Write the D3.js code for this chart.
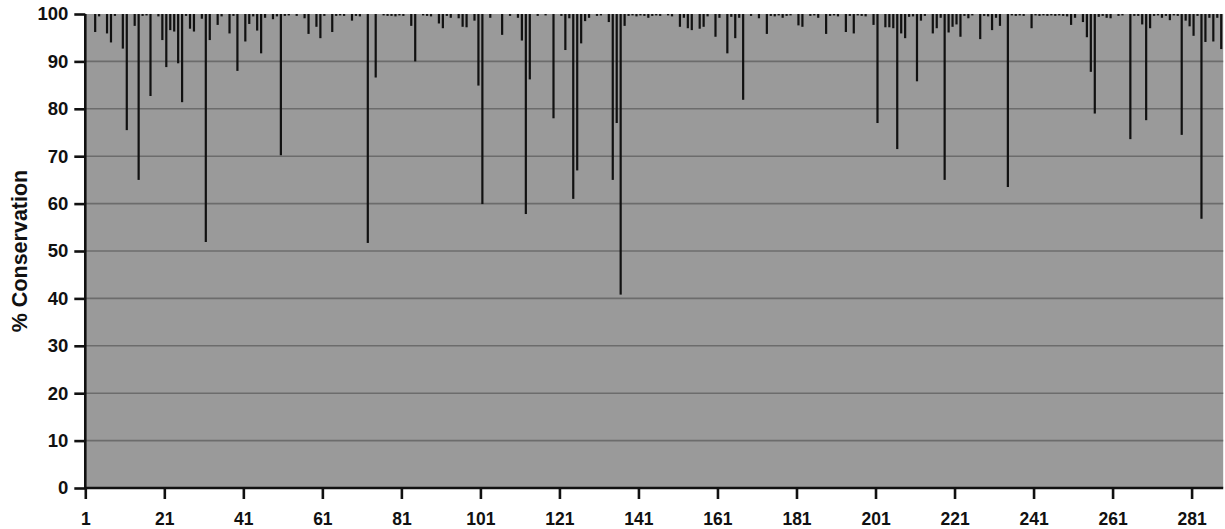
<!DOCTYPE html>
<style>
body { margin: 0; background: #fff; }
svg text { font-family: "Liberation Sans", Arial, sans-serif; font-weight: bold; fill: #111; }
</style>
<svg width="1225" height="529"></svg>
<script src="https://d3js.org/d3.v7.min.js"></script>
<script>

// % conservation per residue position, 1..288 (24 per row)
var conservation = [
  100, 100, 96.2, 99.5, 100, 95.9, 94.0, 99.6, 100, 92.7, 75.5, 100, 97.5, 65.0, 99.6, 99.7, 82.7, 100, 99.5, 94.5, 88.8, 96.6, 96.3, 89.6,
  81.4, 99.6, 96.9, 96.3, 100, 99.0, 51.9, 94.5, 100, 97.7, 99.5, 100, 95.9, 99.6, 88.0, 100, 94.2, 97.9, 99.5, 96.5, 91.7, 99.2, 100, 98.9,
  99.5, 70.2, 99.6, 99.7, 100, 99.6, 100, 99.1, 95.8, 100, 97.3, 94.9, 99.6, 100, 96.2, 99.6, 99.7, 99.6, 100, 98.6, 99.6, 99.5, 100, 51.7,
  100, 86.6, 100, 99.7, 99.6, 99.6, 99.5, 99.7, 99.6, 100, 97.5, 90.0, 100, 99.7, 99.6, 99.5, 100, 98.0, 97.0, 99.6, 99.2, 100, 99.1, 97.3,
  97.2, 100, 98.6, 84.9, 59.9, 100, 99.2, 100, 100, 95.6, 100, 99.6, 100, 99.2, 94.4, 57.8, 86.2, 100, 99.6, 100, 99.7, 100, 78.0, 100,
  99.6, 92.4, 99.1, 61.0, 67.0, 93.8, 98.5, 99.2, 100, 99.6, 99.7, 100, 98.3, 65.0, 77.0, 40.8, 97.5, 99.6, 99.7, 99.5, 99.7, 99.6, 99.2, 99.6,
  99.7, 99.6, 100, 99.7, 99.5, 100, 97.3, 99.2, 97.0, 96.6, 100, 96.9, 97.3, 99.5, 100, 95.2, 99.2, 100, 91.7, 99.4, 94.9, 99.2, 81.9, 100,
  99.6, 100, 99.1, 100, 95.8, 99.6, 99.5, 99.7, 99.2, 99.6, 99.7, 100, 97.6, 97.3, 100, 99.6, 99.7, 99.2, 100, 95.8, 99.6, 99.7, 99.5, 100,
  96.2, 99.6, 95.9, 99.7, 99.6, 99.5, 100, 97.7, 77.0, 100, 97.2, 97.2, 97.0, 71.5, 95.9, 94.9, 99.4, 99.5, 85.8, 98.6, 99.6, 100, 95.9, 97.0,
  99.2, 65.0, 96.1, 97.3, 97.8, 95.2, 99.6, 99.1, 99.7, 100, 94.7, 99.6, 99.5, 96.6, 99.2, 97.5, 100, 63.5, 99.7, 99.6, 99.7, 99.6, 100, 97.0,
  99.7, 99.6, 99.7, 99.6, 99.7, 99.6, 99.7, 99.6, 99.5, 97.7, 99.2, 100, 98.3, 95.1, 87.8, 79.0, 99.4, 99.6, 99.2, 99.1, 100, 99.6, 99.7, 100,
  73.6, 99.6, 99.6, 97.8, 77.6, 97.0, 99.6, 99.7, 99.2, 99.6, 98.7, 99.7, 99.6, 74.5, 98.6, 97.4, 95.4, 99.6, 56.8, 94.1, 99.2, 94.2, 99.2, 92.6
];

var xTicks = [1, 21, 41, 61, 81, 101, 121, 141, 161, 181, 201, 221, 241, 261, 281];
var yTicks = [0, 10, 20, 30, 40, 50, 60, 70, 80, 90, 100];

var svg = d3.select("svg");

var plotLeft = 85.3, plotRight = 1223.2, plotTop = 14, plotBottom = 488;

var x = d3.scaleLinear().domain([1, conservation.length + 1]).range([plotLeft, plotRight]);
var y = d3.scaleLinear().domain([0, 100]).range([plotBottom, plotTop]);

// plot background
svg.append("rect")
  .attr("x", plotLeft)
  .attr("y", plotTop)
  .attr("width", plotRight - plotLeft)
  .attr("height", plotBottom - plotTop)
  .attr("fill", "#9a9a9a");

// gridlines
svg.append("g")
  .selectAll("line")
  .data(yTicks.filter(function(d) { return d > 0 && d < 100; }))
  .enter().append("line")
  .attr("x1", plotLeft)
  .attr("x2", plotRight)
  .attr("y1", function(d) { return y(d); })
  .attr("y2", function(d) { return y(d); })
  .attr("stroke", "#6c6c6c")
  .attr("stroke-width", 1.6);

// bars hang from 100 down to the value
svg.append("g")
  .selectAll("rect")
  .data(conservation)
  .enter().append("rect")
  .attr("x", function(d, i) { return x(i + 1.5) - 1.1; })
  .attr("y", y(100))
  .attr("width", 2.2)
  .attr("height", function(d) { return y(d) - y(100); })
  .attr("fill", "#111");

// axes
var yAxis = svg.append("g")
  .attr("transform", "translate(" + plotLeft + ",0)")
  .call(d3.axisLeft(y).tickValues(yTicks).tickSize(11).tickPadding(6));

var xAxis = svg.append("g")
  .attr("transform", "translate(0," + plotBottom + ")")
  .call(d3.axisBottom(x).tickValues(xTicks).tickFormat(d3.format("d")).tickSize(11).tickPadding(14));

[yAxis, xAxis].forEach(function(a) {
  a.select(".domain").attr("stroke", "#111").attr("stroke-width", 2.6);
  a.selectAll(".tick line").attr("stroke", "#111").attr("stroke-width", 2.6);
  a.selectAll("text").attr("fill", "#111")
    .attr("font-family", "'Liberation Sans', Arial, sans-serif").attr("font-weight", "bold");
});
yAxis.selectAll("text").attr("font-size", 18.5);
xAxis.selectAll("text").attr("font-size", 17.5);
// d3 draws outer ticks on the domain path; keep just the straight lines
yAxis.select(".domain").attr("d", "M0," + plotTop + "V" + plotBottom);
xAxis.select(".domain").attr("d", "M" + plotLeft + ",0H" + plotRight);

svg.append("text")
  .attr("transform", "translate(27," + ((plotTop + plotBottom) / 2) + ") rotate(-90)")
  .attr("text-anchor", "middle")
  .attr("font-size", 21.5)
  .text("% Conservation");

</script>
